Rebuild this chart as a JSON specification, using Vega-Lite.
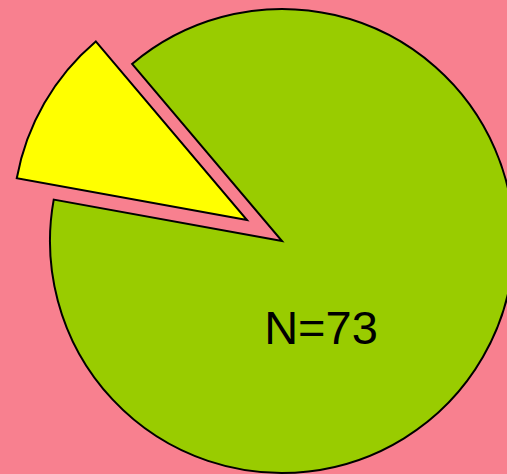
{
  "$schema": "https://vega.github.io/schema/vega-lite/v6.json",
  "autosize": "none",
  "width": 564,
  "height": 482,
  "padding": 0,
  "background": "#F8808F",
  "config": {"view": {"stroke": null}},
  "layer": [
    {
      "data": {"values": [
        {"group": "Group 1", "count": 8},
        {"group": "Group 2", "count": 65}
      ]},
      "layer": [
        {
          "mark": {"type": "arc", "outerRadius": 232, "stroke": "#000000", "strokeWidth": 2},
          "encoding": {
            "theta": {"field": "count", "type": "quantitative", "stack": true, "scale": {"range": [4.892, 11.175]}},
            "color": {"field": "group", "type": "nominal", "sort": ["Group 1", "Group 2"], "scale": {"domain": ["Group 1", "Group 2"], "range": ["#FFFF00", "#99CC00"]}, "legend": null},
            "opacity": {"condition": {"test": "datum.group === 'Group 2'", "value": 1}, "value": 0}
          }
        },
        {
          "mark": {"type": "arc", "outerRadius": 234, "stroke": "#000000", "strokeWidth": 2, "xOffset": -35, "yOffset": -21},
          "encoding": {
            "theta": {"field": "count", "type": "quantitative", "stack": true, "scale": {"range": [4.892, 11.175]}},
            "color": {"field": "group", "type": "nominal", "sort": ["Group 1", "Group 2"], "scale": {"domain": ["Group 1", "Group 2"], "range": ["#FFFF00", "#99CC00"]}, "legend": null},
            "opacity": {"condition": {"test": "datum.group === 'Group 1'", "value": 1}, "value": 0}
          }
        }
      ]
    },
    {
      "data": {"values": [{"label": "N=73"}]},
      "mark": {"type": "text", "font": "Liberation Sans", "fontSize": 47, "color": "#000000", "align": "center", "baseline": "alphabetic", "dx": 39, "dy": 103},
      "encoding": {"text": {"field": "label", "type": "nominal"}}
    }
  ]
}
